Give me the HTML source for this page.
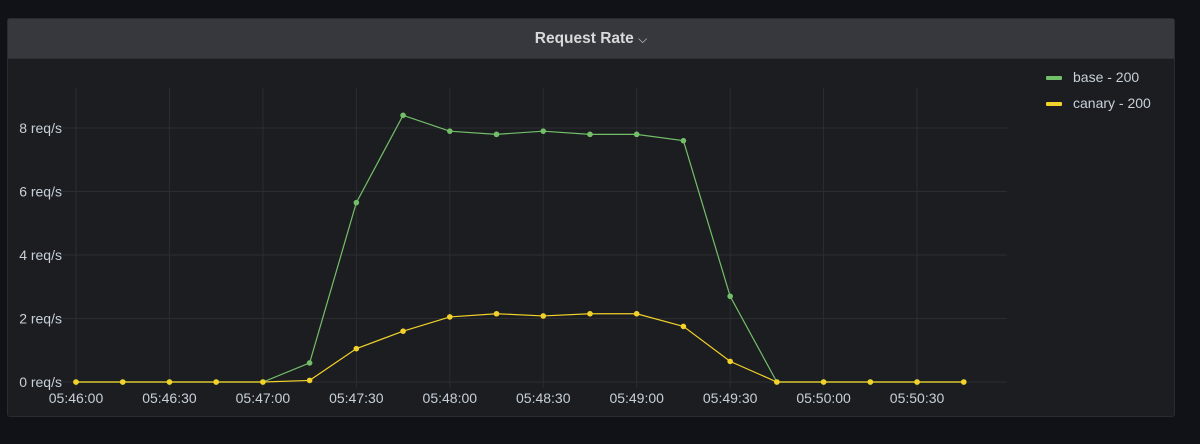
<!DOCTYPE html>
<html><head><meta charset="utf-8"><style>
body{margin:0;background:#111217;width:1200px;height:444px;overflow:hidden;font-family:"Liberation Sans",sans-serif}
#panel{position:absolute;left:7px;top:18px;width:1168px;height:399px;background:#1c1d21;border:1px solid #2a2b30;border-radius:3px;box-sizing:border-box}
#hdr{position:absolute;left:0;top:0;right:0;height:39px;background:#37383d;border-bottom:1px solid #2f3035;text-align:center;line-height:39px;color:#d8d9da;font-size:15.5px;font-weight:bold}
.leg{position:absolute;left:1046px;font-size:14px;color:#c7d0d9}
.sw{display:inline-block;width:16px;height:4px;border-radius:1px;vertical-align:middle;margin-right:11px}
</style></head><body>
<div id="panel">
<div id="hdr">Request Rate <span style="font-weight:normal;font-size:12px">⌵</span></div>
</div>
<div class="leg" style="top:69px"><span class="sw" style="background:#73bf69"></span>base - 200</div>
<div class="leg" style="top:95px"><span class="sw" style="background:#f2d12a"></span>canary - 200</div>
<svg id="chart" width="1200" height="444" style="position:absolute;left:0;top:0"></svg>
<script>
const times=["05:46:00","05:46:15","05:46:30","05:46:45","05:47:00","05:47:15","05:47:30","05:47:45","05:48:00","05:48:15","05:48:30","05:48:45","05:49:00","05:49:15","05:49:30","05:49:45","05:50:00","05:50:15","05:50:30","05:50:45"];
const baseValues=[0,0,0,0,0,0.6,5.65,8.4,7.9,7.8,7.9,7.8,7.8,7.6,2.7,0,0,0,0,0];
const canaryValues=[0,0,0,0,0,0.05,1.05,1.6,2.05,2.15,2.08,2.15,2.15,1.75,0.65,0,0,0,0,0];
const yTicks=[0,2,4,6,8];
const xTickLabels=["05:46:00","05:46:30","05:47:00","05:47:30","05:48:00","05:48:30","05:49:00","05:49:30","05:50:00","05:50:30"];
const svg=document.getElementById('chart');const NS='http://www.w3.org/2000/svg';
const sec=t=>{const p=t.split(':');return +p[0]*3600+ +p[1]*60+ +p[2];};
const t0=sec(times[0]);
const x=t=>76+(sec(t)-t0)*(93.45/30);
const y=v=>382-v*31.75;
function mk(tag,a){const e=document.createElementNS(NS,tag);for(const k in a)e.setAttribute(k,a[k]);svg.appendChild(e);return e;}
yTicks.forEach(v=>{const l=mk('line',{x1:60,x2:1007,y1:y(v),y2:y(v),stroke:'#2c2d31','stroke-width':1});


const t=mk('text',{x:62,y:y(v)+5,'text-anchor':'end',fill:'#c7d0d9','font-size':'14','font-family':'Liberation Sans, sans-serif'});t.textContent=v+' req/s';

});
xTickLabels.forEach(s=>{const xx=x(s);const l=mk('line',{x1:xx,x2:xx,y1:88,y2:388,stroke:'#2c2d31','stroke-width':1});


const t=mk('text',{x:xx,y:403,'text-anchor':'middle',fill:'#c7d0d9','font-size':'14','font-family':'Liberation Sans, sans-serif'});t.textContent=s;

});
function series(vals,color,name){const pts=vals.map((v,i)=>x(times[i])+','+y(v)).join(' ');
const pl=mk('polyline',{points:pts,fill:'none',stroke:color,'stroke-width':1.2});


vals.forEach((v,i)=>{const c=mk('circle',{cx:x(times[i]),cy:y(v),r:2.8,fill:color});

});}
series(baseValues,'#73bf69','base');
series(canaryValues,'#f2d12a','canary');
</script>
</body></html>
